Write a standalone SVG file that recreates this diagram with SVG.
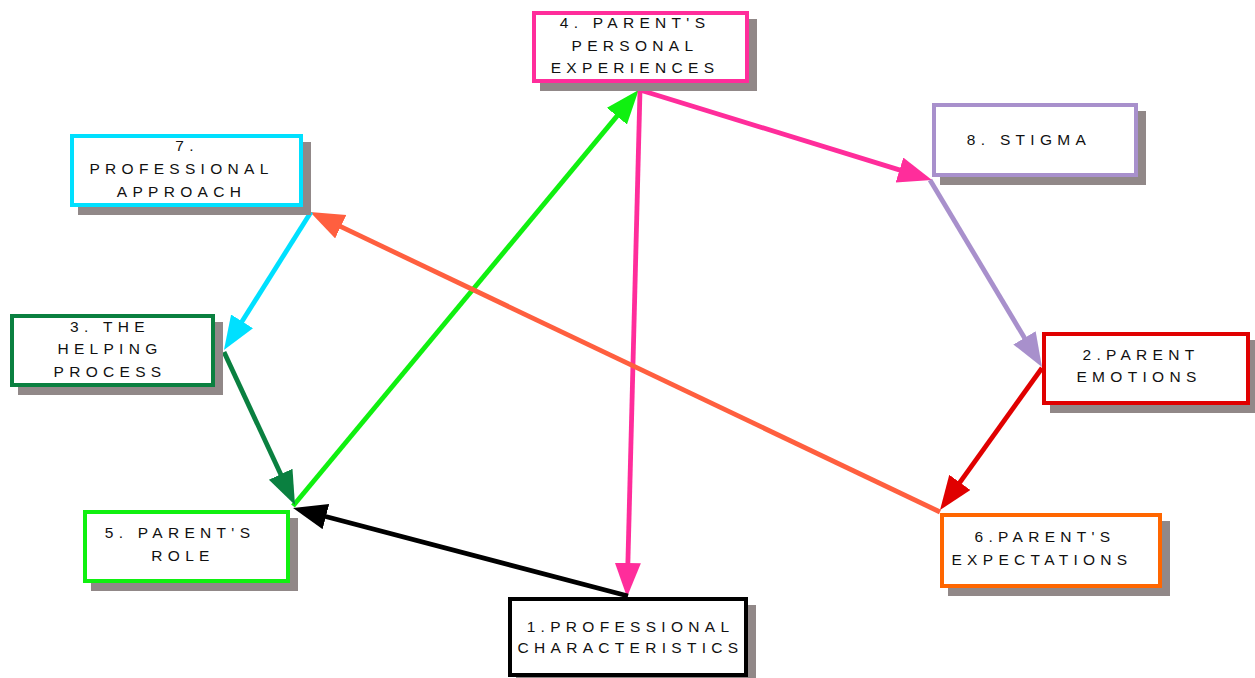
<svg xmlns="http://www.w3.org/2000/svg" width="1255" height="678" viewBox="0 0 1255 678">
<style>
.sh{fill:#918888;stroke:none}
.bx{fill:#fff;stroke-width:4}
.t{font-family:"Liberation Sans",Arial,sans-serif;font-size:15.5px;letter-spacing:5.3px;fill:#111;text-anchor:middle}
.c{fill:none;stroke-width:4.8}
</style>
<defs>
<marker id="mGreen" markerUnits="userSpaceOnUse" markerWidth="36" markerHeight="28" refX="15" refY="13" orient="auto"><path d="M0,0 L34,13 L0,26 z" fill="#10f010"/></marker>
<marker id="mPink" markerUnits="userSpaceOnUse" markerWidth="36" markerHeight="28" refX="15" refY="13" orient="auto"><path d="M0,0 L34,13 L0,26 z" fill="#ff2d9b"/></marker>
<marker id="mLav" markerUnits="userSpaceOnUse" markerWidth="36" markerHeight="28" refX="15" refY="13" orient="auto"><path d="M0,0 L34,13 L0,26 z" fill="#a890cc"/></marker>
<marker id="mRed" markerUnits="userSpaceOnUse" markerWidth="36" markerHeight="28" refX="15" refY="13" orient="auto"><path d="M0,0 L34,13 L0,26 z" fill="#e00000"/></marker>
<marker id="mTom" markerUnits="userSpaceOnUse" markerWidth="36" markerHeight="28" refX="15" refY="13" orient="auto"><path d="M0,0 L34,13 L0,26 z" fill="#ff5f3f"/></marker>
<marker id="mCyan" markerUnits="userSpaceOnUse" markerWidth="36" markerHeight="28" refX="15" refY="13" orient="auto"><path d="M0,0 L34,13 L0,26 z" fill="#00e0ff"/></marker>
<marker id="mDG" markerUnits="userSpaceOnUse" markerWidth="36" markerHeight="28" refX="15" refY="13" orient="auto"><path d="M0,0 L34,13 L0,26 z" fill="#0a8040"/></marker>
<marker id="mBlk" markerUnits="userSpaceOnUse" markerWidth="36" markerHeight="28" refX="15" refY="13" orient="auto"><path d="M0,0 L34,13 L0,26 z" fill="#000"/></marker>
</defs>
<rect width="1255" height="678" fill="#fff"/>
<g id="connectors">
<line class="c" x1="293" y1="506" x2="626.5" y2="104.6" stroke="#10f010" marker-end="url(#mGreen)"/>
<line class="c" x1="640" y1="90" x2="627.5" y2="578" stroke="#ff2d9b" marker-end="url(#mPink)"/>
<line class="c" x1="640" y1="90" x2="913.8" y2="174.4" stroke="#ff2d9b" marker-end="url(#mPink)"/>
<line class="c" x1="930" y1="180" x2="1032.2" y2="350.7" stroke="#a890cc" marker-end="url(#mLav)"/>
<line class="c" x1="1042" y1="368" x2="951.1" y2="494.6" stroke="#e00000" marker-end="url(#mRed)"/>
<line class="c" x1="940" y1="512" x2="327.2" y2="220.2" stroke="#ff5f3f" marker-end="url(#mTom)"/>
<line class="c" x1="311" y1="212" x2="234.1" y2="334" stroke="#00e0ff" marker-end="url(#mCyan)"/>
<line class="c" x1="224" y1="352" x2="287" y2="487.8" stroke="#0a8040" marker-end="url(#mDG)"/>
<line class="c" x1="628" y1="596" x2="311.4" y2="512.8" stroke="#000" marker-end="url(#mBlk)"/>
</g>
<g id="n4">
<rect class="sh" x="540" y="19" width="217" height="72"/>
<rect class="bx" x="534" y="13" width="213" height="68" stroke="#ff2d9b"/>
<text class="t" x="635" y="28">4. PARENT'S</text>
<text class="t" x="635" y="51">PERSONAL</text>
<text class="t" x="635" y="73">EXPERIENCES</text>
</g>
<g id="n7">
<rect class="sh" x="78" y="142" width="233" height="73"/>
<rect class="bx" x="72" y="136" width="229" height="69" stroke="#00e0ff"/>
<text class="t" x="187" y="151">7.</text>
<text class="t" x="181.5" y="174">PROFESSIONAL</text>
<text class="t" x="181.5" y="197">APPROACH</text>
</g>
<g id="n3">
<rect class="sh" x="18" y="322" width="205" height="73"/>
<rect class="bx" x="12" y="316" width="201" height="69" stroke="#0a8040"/>
<text class="t" x="110" y="332">3. THE</text>
<text class="t" x="110" y="354">HELPING</text>
<text class="t" x="110" y="377">PROCESS</text>
</g>
<g id="n5">
<rect class="sh" x="91" y="518" width="207" height="73"/>
<rect class="bx" x="85" y="512" width="203" height="69" stroke="#10f010"/>
<text class="t" x="180" y="538">5. PARENT'S</text>
<text class="t" x="183" y="561">ROLE</text>
</g>
<g id="n1">
<rect class="sh" x="516" y="605" width="240" height="80"/>
<rect class="bx" x="510" y="599" width="236" height="76" stroke="#000"/>
<text class="t" x="630.5" y="632">1.PROFESSIONAL</text>
<text class="t" x="630.5" y="653">CHARACTERISTICS</text>
</g>
<g id="n8">
<rect class="sh" x="940" y="111" width="206" height="74"/>
<rect class="bx" x="934" y="105" width="202" height="70" stroke="#a890cc"/>
<text class="t" x="1029" y="145">8. STIGMA</text>
</g>
<g id="n2">
<rect class="sh" x="1050" y="340" width="208" height="73"/>
<rect class="bx" x="1044" y="334" width="204" height="69" stroke="#e00000"/>
<text class="t" x="1141" y="360">2.PARENT</text>
<text class="t" x="1139" y="382">EMOTIONS</text>
</g>
<g id="n6">
<rect class="sh" x="948" y="521" width="222" height="75"/>
<rect class="bx" x="942" y="515" width="218" height="71" stroke="#ff6600"/>
<text class="t" x="1045" y="542">6.PARENT'S</text>
<text class="t" x="1042" y="565">EXPECTATIONS</text>
</g>
</svg>
